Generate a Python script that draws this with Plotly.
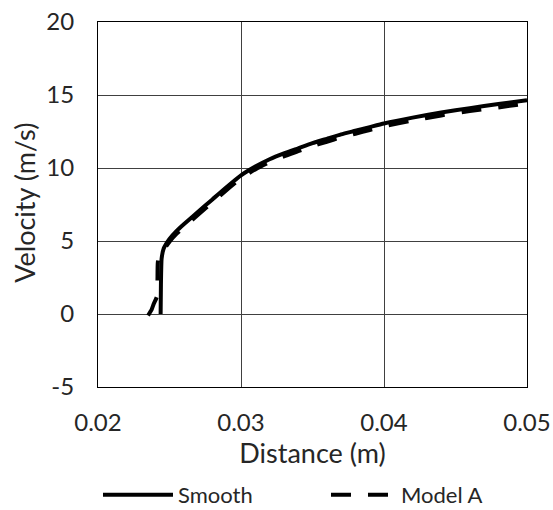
import plotly.graph_objects as go

# Data
smooth_x = [0.02438, 0.02440, 0.02445, 0.02460, 0.02500, 0.02550, 0.02600, 0.02700,
            0.02800, 0.02900, 0.03000, 0.03100, 0.03200, 0.03300, 0.03400, 0.03500,
            0.03600, 0.03700, 0.03800, 0.03900, 0.04000, 0.04200, 0.04400, 0.04600,
            0.04800, 0.05000]
smooth_v = [0.0, 2.0, 3.8, 4.5, 5.15, 5.7, 6.15, 7.0, 7.85, 8.7, 9.5, 10.1, 10.6, 11.0,
            11.35, 11.7, 12.0, 12.3, 12.55, 12.8, 13.05, 13.45, 13.8, 14.1, 14.38, 14.65]

modelA_x = [0.02350, 0.02375, 0.02390, 0.02412, 0.02418, 0.02430, 0.02460, 0.02500,
            0.02550, 0.02600, 0.02700, 0.02800, 0.02900, 0.03000, 0.03100, 0.03200,
            0.03300, 0.03400, 0.03500, 0.03600, 0.03700, 0.03800, 0.03900, 0.04000,
            0.04200, 0.04400, 0.04600, 0.04800, 0.05000]
modelA_v = [-0.1, 0.3, 0.7, 1.2, 3.5, 4.1, 4.4, 4.95, 5.5, 5.95, 6.8, 7.65, 8.5, 9.3,
            9.9, 10.4, 10.8, 11.15, 11.5, 11.8, 12.1, 12.35, 12.6, 12.85, 13.25, 13.6,
            13.9, 14.15, 14.42]

x_ticks = [0.02, 0.03, 0.04, 0.05]
x_tick_labels = ["0.02", "0.03", "0.04", "0.05"]
y_ticks = [-5, 0, 5, 10, 15, 20]
y_tick_labels = ["-5", "0", "5", "10", "15", "20"]

FONT = "Lato"
TXT = "#262626"

fig = go.Figure()
fig.add_trace(go.Scatter(x=smooth_x, y=smooth_v, mode="lines", name="Smooth",
                         legend="legend",
                         line=dict(color="black", width=4, shape="spline", smoothing=0.5)))
fig.add_trace(go.Scatter(x=modelA_x, y=modelA_v, mode="lines", name="Model A",
                         legend="legend2",
                         line=dict(color="black", width=4, dash="20px,17px",
                                   shape="spline", smoothing=0.5)))

leg_common = dict(orientation="h", xref="container", yref="container",
                  xanchor="left", y=0.0294, yanchor="middle",
                  font=dict(size=22, family=FONT, color=TXT),
                  bgcolor="rgba(0,0,0,0)")

fig.update_layout(
    width=553, height=510,
    margin=dict(l=98, r=26, t=22, b=123),
    paper_bgcolor="white", plot_bgcolor="white",
    font=dict(family=FONT, color=TXT),
    showlegend=True,
    legend=dict(x=0.1772, itemwidth=70, **leg_common),
    legend2=dict(x=0.5895, itemwidth=65, **leg_common),
    annotations=[dict(text="Velocity (m/s)", xref="paper", yref="paper",
                      x=-0.170, y=0.505, xanchor="center", yanchor="middle",
                      textangle=-90, showarrow=False,
                      font=dict(size=27, family=FONT, color=TXT))],
)
fig.update_xaxes(range=[0.02, 0.05], tickvals=x_ticks, ticktext=x_tick_labels,
                 showgrid=True, gridcolor="#404040", gridwidth=1,
                 showline=True, linecolor="black", linewidth=1, mirror=True,
                 zeroline=False, ticks="", ticklabelstandoff=14, automargin=False,
                 tickfont=dict(size=24, family=FONT, color=TXT),
                 title=dict(text="Distance (m)", font=dict(size=27, family=FONT, color=TXT),
                            standoff=9))
fig.update_yaxes(range=[-5, 20], tickvals=y_ticks, ticktext=y_tick_labels,
                 showgrid=True, gridcolor="#404040", gridwidth=1,
                 showline=True, linecolor="black", linewidth=1, mirror=True,
                 zeroline=False, ticks="", ticklabelstandoff=18, automargin=False,
                 tickfont=dict(size=24, family=FONT, color=TXT))

# Remove the default 8px page margin so the figure fills the window exactly.
fig.write_html("out.html",
               config={"displayModeBar": False},
               post_script="document.body.style.margin='0';"
                           "document.documentElement.style.overflow='hidden';")
